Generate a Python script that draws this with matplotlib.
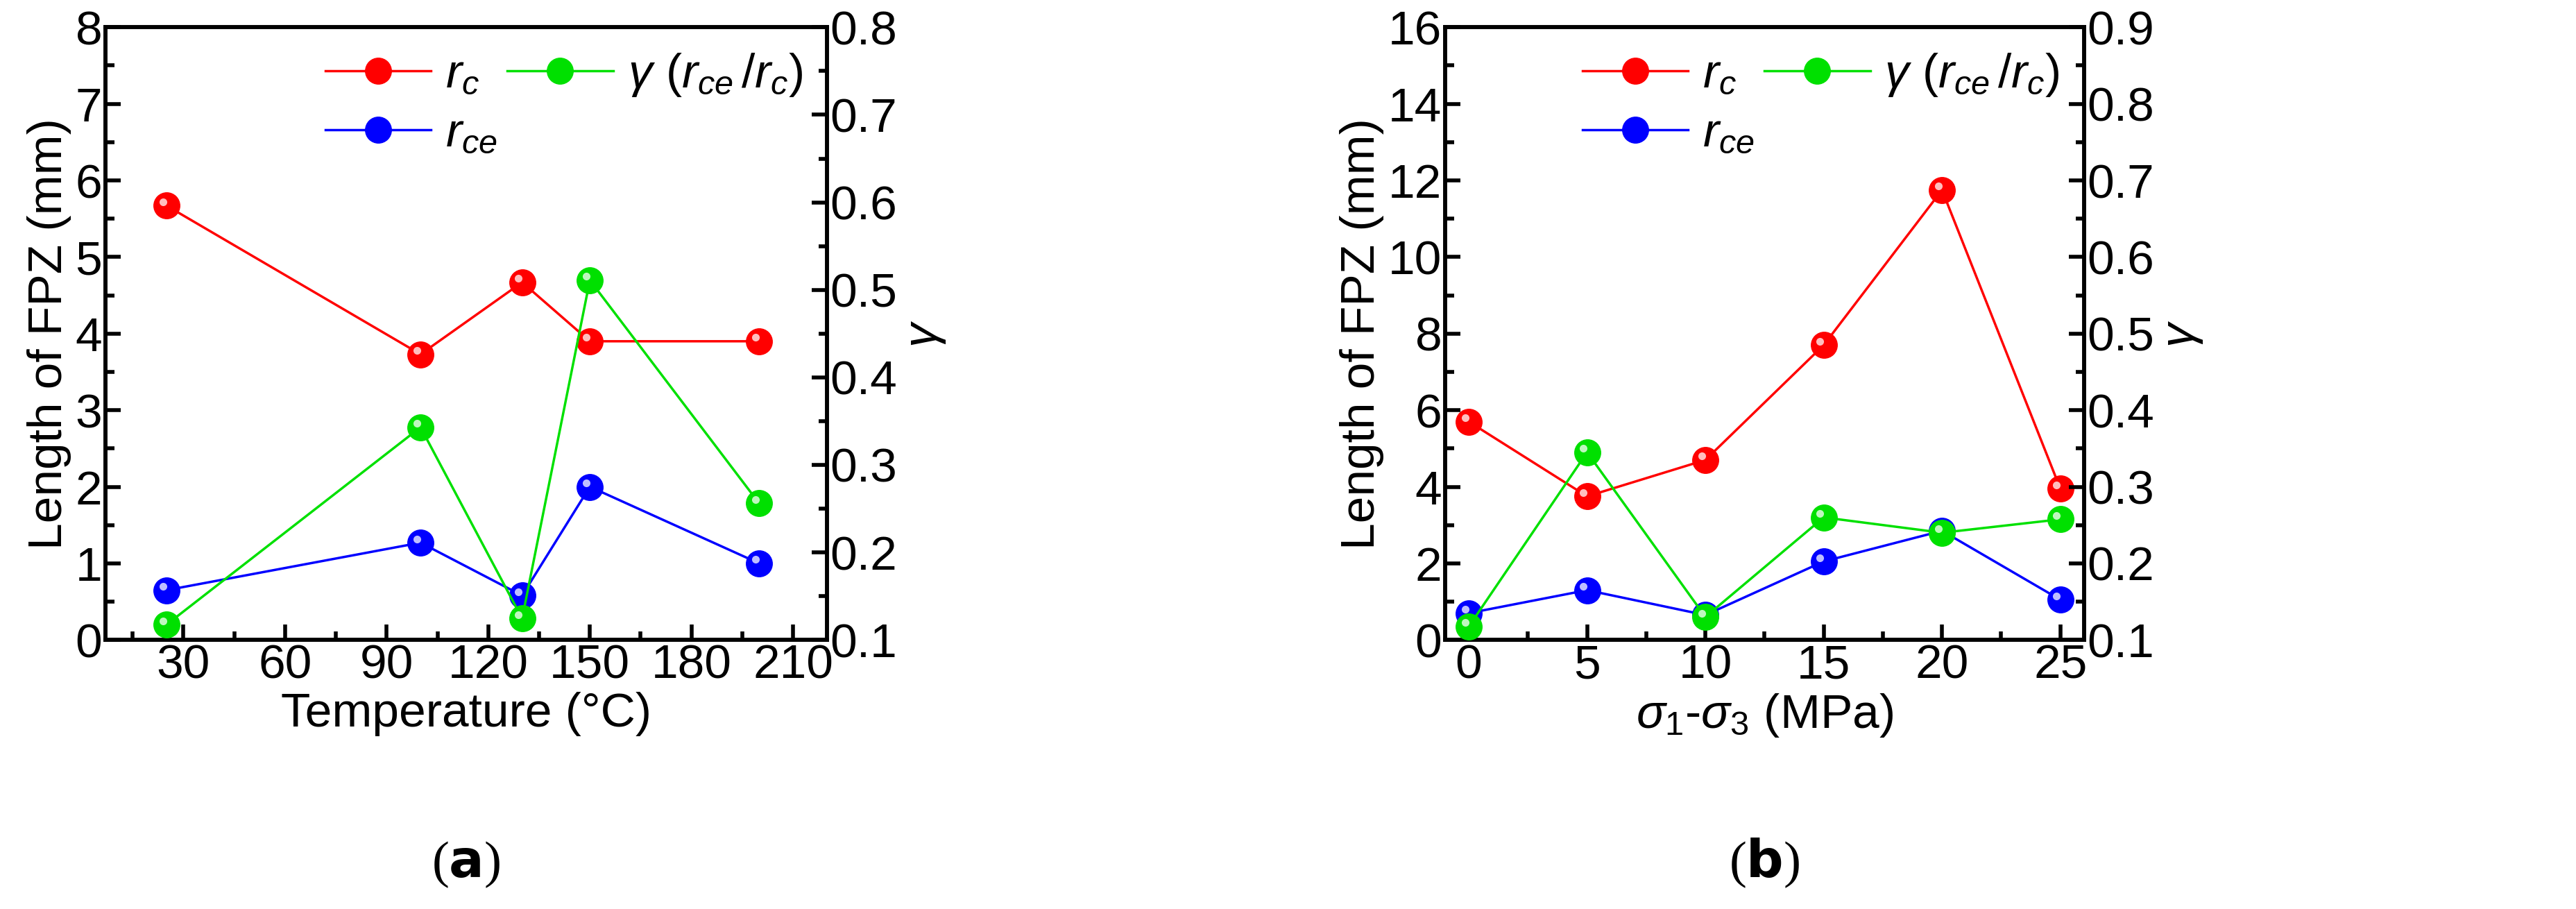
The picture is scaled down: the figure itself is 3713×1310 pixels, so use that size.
import numpy as np
import matplotlib.pyplot as plt
from matplotlib.lines import Line2D
from matplotlib.ticker import MultipleLocator
import matplotlib.transforms as mtransforms

plt.rcParams['font.family'] = ['Liberation Sans Narrow', 'Liberation Sans', 'DejaVu Sans']
plt.rcParams['mathtext.fontset'] = 'custom'
plt.rcParams['mathtext.it'] = 'Liberation Sans:italic'
plt.rcParams['mathtext.rm'] = 'Liberation Sans'

# panel a: temperature
temp = [25, 100, 130, 150, 200]
rc_a = [5.67, 3.73, 4.67, 3.9, 3.9]
rce_a = [0.65, 1.27, 0.58, 2.0, 1.0]
gam_a = [0.1175, 0.343, 0.1245, 0.511, 0.256]

# panel b: deviatoric stress
stress = [0, 5, 10, 15, 20, 25]
rc_b = [5.7, 3.75, 4.7, 7.7, 11.75, 3.95]
rce_b = [0.7, 1.3, 0.65, 2.05, 2.85, 1.05]
gam_b = [0.1175, 0.345, 0.13, 0.26, 0.24, 0.2575]

FS = 50
fig = plt.figure(figsize=(37.13, 13.1), dpi=100)

def ball(ax, x, y, c):
    ax.plot(x, y, '-', color=c, lw=2.5, marker='o', ms=27, mec=c, mfc=c, zorder=3)
    off = mtransforms.offset_copy(ax.transData, fig=fig, x=-4, y=4, units='points')
    ax.plot(x, y, ls='none', marker='o', ms=8, mfc='white', mec='none', alpha=0.75,
            zorder=4, transform=off)

def style(ax):
    for s in ax.spines.values():
        s.set_linewidth(4)
    ax.tick_params(which='major', direction='in', length=16, width=4, labelsize=FS)
    ax.tick_params(which='minor', direction='in', length=9, width=4)

def panel(rect, x, rc, rce, gam, xlim, xmaj, ylim, ymaj, y2lim, xlabel, tag):
    ax = fig.add_axes(rect)
    ax2 = ax.twinx()
    ball(ax, x, rc, 'red')
    ball(ax, x, rce, 'blue')
    ball(ax2, x, gam, '#00e000')
    ax.set_xlim(*xlim)
    ax.set_ylim(*ylim)
    ax2.set_ylim(*y2lim)
    ax.xaxis.set_major_locator(MultipleLocator(xmaj))
    ax.xaxis.set_minor_locator(MultipleLocator(xmaj / 2))
    ax.yaxis.set_major_locator(MultipleLocator(ymaj))
    ax.yaxis.set_minor_locator(MultipleLocator(ymaj / 2))
    ax2.yaxis.set_major_locator(MultipleLocator(0.1))
    ax2.yaxis.set_minor_locator(MultipleLocator(0.05))
    style(ax); style(ax2)
    ax.set_xlabel(xlabel, fontsize=FS, labelpad=4)
    ax.set_ylabel('Length of FPZ (mm)', fontsize=FS, labelpad=4)
    ax2.set_ylabel(r'$\gamma$', fontsize=FS, labelpad=6)
    h = [Line2D([], [], color='red', lw=2.5, marker='o', ms=27),
         Line2D([], [], color='blue', lw=2.5, marker='o', ms=27),
         Line2D([], [], color='#00e000', lw=2.5, marker='o', ms=27)]
    lab = [r'$r_c$', r'$r_{ce}$', r'$\gamma\ (r_{ce}\,/r_c)$']
    ax.legend(h, lab, ncol=2, loc='upper right', frameon=False, fontsize=FS,
              handlelength=2.2, columnspacing=0.2, handletextpad=0.3,
              borderaxespad=0.1, labelspacing=0.3)
    fig.text(rect[0] + rect[2] / 2, 0.035, tag, ha='center', fontsize=54,
             family='Liberation Serif')

panel([0.041, 0.296, 0.28, 0.674], temp, rc_a, rce_a, gam_a, (7, 220), 30,
      (0, 8), 1, (0.1, 0.8), 'Temperature (°C)', r'($\mathbf{a}$)')
panel([0.561, 0.296, 0.248, 0.674], stress, rc_b, rce_b, gam_b, (-1, 26), 5,
      (0, 16), 2, (0.1, 0.9), r'$\sigma_1$-$\sigma_3$ (MPa)', r'($\mathbf{b}$)')

fig.savefig('out.png', dpi=100)
